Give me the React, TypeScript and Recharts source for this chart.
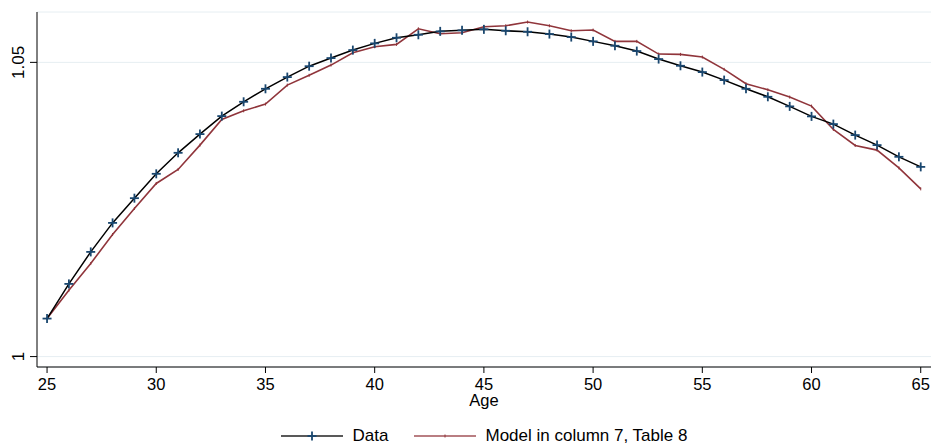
import { LineChart, Line, XAxis, YAxis, CartesianGrid, Legend } from 'recharts';

const ages = [
  25, 26, 27, 28, 29, 30, 31, 32, 33, 34, 35, 36, 37, 38, 39, 40, 41, 42, 43, 44, 45,
  46, 47, 48, 49, 50, 51, 52, 53, 54, 55, 56, 57, 58, 59, 60, 61, 62, 63, 64, 65,
];

const dataValues = [
  1.00646, 1.01235, 1.01779, 1.02272, 1.02692, 1.03106, 1.03463, 1.03781, 1.04087, 1.0433,
  1.04551, 1.0475, 1.04935, 1.05073, 1.05209, 1.05323, 1.05418, 1.05469, 1.05527, 1.05544,
  1.05561, 1.05537, 1.0552, 1.05481, 1.0543, 1.05357, 1.05282, 1.05192, 1.05056, 1.04942,
  1.04835, 1.04699, 1.04551, 1.04415, 1.04252, 1.04082, 1.03951, 1.03764, 1.03594, 1.03395,
  1.03224,
];

const modelValues = [
  1.00646, 1.01128, 1.01582, 1.02075, 1.02517, 1.02942, 1.0318, 1.03594, 1.0403, 1.04177,
  1.04291, 1.04614, 1.0478, 1.04954, 1.05163, 1.05265, 1.05306, 1.05571, 1.05486, 1.05503,
  1.05605, 1.05622, 1.05685, 1.05622, 1.05537, 1.05549, 1.05357, 1.05357, 1.05141, 1.05136,
  1.0509, 1.04881, 1.04636, 1.04534, 1.0441, 1.04257, 1.0386, 1.03588, 1.03509, 1.03207,
  1.0285,
];

const xTicks = [25, 30, 35, 40, 45, 50, 55, 60, 65];
const yTicks = [1, 1.05];

const FONT = '"Liberation Sans", Arial, sans-serif';
const NAVY = '#1a476f';
const MAROON = '#90353b';

const rows = ages.map((age, i) => ({ age, data: dataValues[i], model: modelValues[i] }));

const PlusDot = (props: any) => {
  const { cx, cy } = props;
  if (cx == null || cy == null) return null;
  return (
    <g>
      <line x1={cx - 4.5} y1={cy} x2={cx + 4.5} y2={cy} stroke={NAVY} strokeWidth={1.8} />
      <line x1={cx} y1={cy - 4.5} x2={cx} y2={cy + 4.5} stroke={NAVY} strokeWidth={1.8} />
    </g>
  );
};

const TinyDot = (props: any) => {
  const { cx, cy } = props;
  if (cx == null || cy == null) return null;
  return <line x1={cx} y1={cy - 1.5} x2={cx} y2={cy + 1.5} stroke={MAROON} strokeWidth={1} />;
};

const YTick = (props: any) => {
  const { x, y, payload } = props;
  const label = payload.value === 1 ? '1' : Number(payload.value).toFixed(2);
  return (
    <text
      x={x}
      y={y}
      transform={`rotate(-90 ${x} ${y})`}
      textAnchor="middle"
      fontSize={17}
      fontFamily={FONT}
      fill="#000"
    >
      {label}
    </text>
  );
};

const LegendContent = () => (
  <div
    style={{
      height: 36,
      paddingTop: 12,
      paddingLeft: 37,
      boxSizing: 'border-box',
      display: 'flex',
      justifyContent: 'center',
      alignItems: 'center',
      fontFamily: FONT,
      fontSize: 17,
      color: '#000',
    }}
  >
    <svg width={62} height={12} style={{ marginRight: 10 }}>
      <line x1={0} y1={6} x2={62} y2={6} stroke="#222" strokeWidth={1.6} />
      <line x1={26.5} y1={6} x2={35.5} y2={6} stroke={NAVY} strokeWidth={1.8} />
      <line x1={31} y1={1.5} x2={31} y2={10.5} stroke={NAVY} strokeWidth={1.8} />
    </svg>
    <span style={{ marginRight: 25 }}>Data</span>
    <svg width={62} height={12} style={{ marginRight: 10 }}>
      <line x1={0} y1={6} x2={62} y2={6} stroke={MAROON} strokeWidth={1.6} strokeOpacity={0.85} />
      <line x1={31} y1={4.5} x2={31} y2={7.5} stroke={MAROON} strokeWidth={1} />
    </svg>
    <span>Model in column 7, Table 8</span>
  </div>
);

export default function App() {
  return (
    <div style={{ position: 'absolute', left: 0, top: 0, background: '#fff' }}>
      <LineChart width={931} height={448} data={rows} margin={{ top: 12, right: 0, bottom: 0, left: 0 }}>
        <CartesianGrid vertical={false} stroke="#e6eef2" strokeWidth={1} />
        <XAxis
          dataKey="age"
          type="number"
          domain={[24.54, 65.47]}
          ticks={xTicks}
          allowDataOverflow
          height={45}
          tickSize={6}
          tickMargin={5}
          stroke="#000"
          tick={{ fontSize: 16.5, fontFamily: FONT, fill: '#000' }}
          label={{ value: 'Age', position: 'insideBottom', offset: 6, fontSize: 16.5, fontFamily: FONT, fill: '#000' }}
        />
        <YAxis
          type="number"
          domain={[0.99823, 1.05856]}
          ticks={yTicks}
          allowDataOverflow
          width={37}
          tickSize={7}
          tickMargin={6}
          stroke="#000"
          tick={<YTick />}
        />
        <Legend verticalAlign="bottom" height={36} content={<LegendContent />} />
        <Line
          dataKey="model"
          stroke={MAROON}
          strokeWidth={1.6}
          dot={<TinyDot />}
          activeDot={false}
          isAnimationActive={false}
        />
        <Line
          dataKey="data"
          stroke="#000"
          strokeWidth={1.5}
          dot={<PlusDot />}
          activeDot={false}
          isAnimationActive={false}
        />
      </LineChart>
    </div>
  );
}
